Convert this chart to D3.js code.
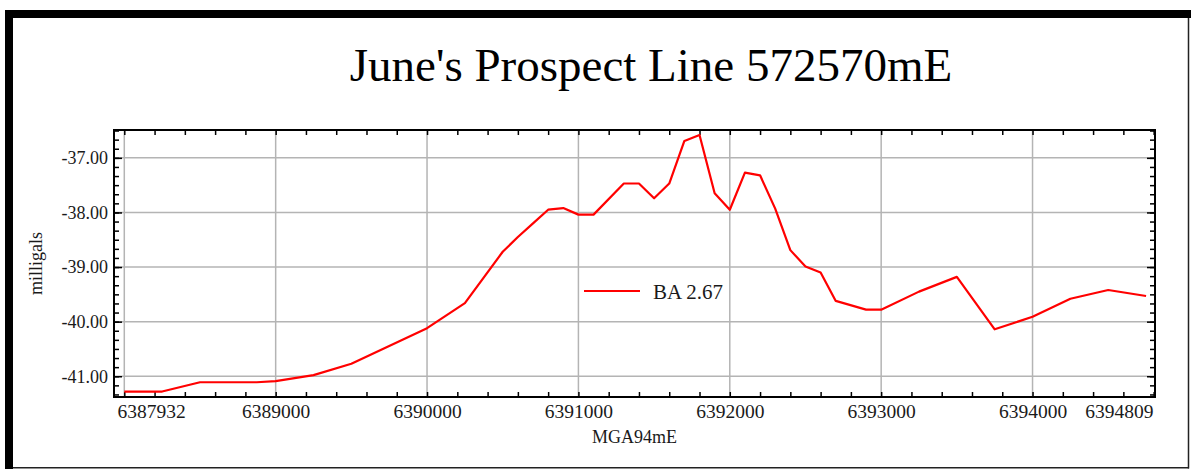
<!DOCTYPE html>
<html>
<head>
<meta charset="utf-8">
<script src="https://cdn.jsdelivr.net/npm/d3@7"></script>
<style>
  html, body { margin: 0; padding: 0; background: #fff; }
  svg { display: block; }
  text { font-family: "Liberation Serif", "Times New Roman", serif; fill: #1a1a1a; }
</style>
</head>
<body>
<svg id="chart" width="1191" height="469"></svg>
<script>
// Bouguer anomaly profile along line 572570mE
const eastings = [
  6388000, 6388250, 6388500, 6388875, 6389000, 6389250, 6389500, 6390000,
  6390250, 6390500, 6390600, 6390700, 6390800, 6390900, 6391000, 6391100,
  6391300, 6391400, 6391500, 6391600, 6391700, 6391800, 6391900, 6392000,
  6392100, 6392200, 6392300, 6392400, 6392500, 6392600, 6392700, 6392900,
  6393000, 6393250, 6393500, 6393750, 6394000, 6394250, 6394500, 6394750
];
const ba267 = [
  -41.28, -41.28, -41.11, -41.11, -41.09, -40.98, -40.77, -40.12,
  -39.66, -38.72, -38.45, -38.20, -37.95, -37.92, -38.04, -38.04,
  -37.47, -37.47, -37.74, -37.47, -36.69, -36.58, -37.65, -37.95,
  -37.27, -37.32, -37.93, -38.69, -38.99, -39.10, -39.62, -39.78,
  -39.78, -39.45, -39.18, -40.14, -39.91, -39.58, -39.42, -39.53
];
const seriesName = "BA 2.67";

// axis settings
const xExtent = [6387932, 6394809];
const xLabelTicks = [6387932, 6389000, 6390000, 6391000, 6392000, 6393000, 6394000, 6394809];
const xGridTicks = [6388000, 6389000, 6390000, 6391000, 6392000, 6393000, 6394000];
const yExtent = [-41.38, -36.49];
const yTicks = [-37, -38, -39, -40, -41];

const titleText = "June's Prospect Line 572570mE";
const xTitle = "MGA94mE";
const yTitle = "milligals";

const svg = d3.select("#chart");
const plot = { left: 114, right: 1155, top: 130, bottom: 397 };

const x = d3.scaleLinear().domain(xExtent).range([plot.left, plot.right]);
const y = d3.scaleLinear().domain(yExtent).range([plot.bottom, plot.top]);

const fmtY = d3.formatLocale({ decimal: ".", thousands: ",", grouping: [3], currency: ["", ""], minus: "-" }).format(".2f");

// outer frame: heavy top/left edge, thin bottom/right edge
svg.append("rect").attr("x", 5).attr("y", 10).attr("width", 1186).attr("height", 8).attr("fill", "#000");
svg.append("rect").attr("x", 5).attr("y", 10).attr("width", 8).attr("height", 459).attr("fill", "#000");
svg.append("line").attr("x1", 1188.5).attr("x2", 1188.5).attr("y1", 18).attr("y2", 468.5)
  .attr("stroke", "#222").attr("stroke-width", 1.5);
svg.append("line").attr("x1", 13).attr("x2", 1189).attr("y1", 467.8).attr("y2", 467.8)
  .attr("stroke", "#222").attr("stroke-width", 1.5);

// title
svg.append("text")
  .attr("x", 651).attr("y", 81)
  .attr("text-anchor", "middle")
  .style("font-size", "47px")
  .style("fill", "#000")
  .text(titleText);

// grid
const grid = svg.append("g").attr("stroke", "#b4b4b4").attr("stroke-width", 1.5);
grid.selectAll("line.v").data(xGridTicks).join("line")
  .attr("class", "v")
  .attr("x1", d => x(d)).attr("x2", d => x(d))
  .attr("y1", plot.top).attr("y2", plot.bottom);
grid.selectAll("line.h").data(yTicks).join("line")
  .attr("class", "h")
  .attr("x1", plot.left).attr("x2", plot.right)
  .attr("y1", d => y(d)).attr("y2", d => y(d));

// minor tick positions
const xMinor = d3.range(6388000, xExtent[1] + 1, 200);
const yMinor = d3.range(-41 - 2 / 6, -36.49, 1 / 6).filter(v => v >= yExtent[0] && v <= yExtent[1]);

function styleTicks(g) {
  g.select(".domain").remove();
  g.selectAll(".tick line").attr("stroke", "#000").attr("stroke-width", 1.5);
  g.selectAll(".tick text").remove();
}

svg.append("g").attr("transform", `translate(0,${plot.bottom})`)
  .call(d3.axisBottom(x).tickValues(xMinor).tickSize(-5)).call(styleTicks);
svg.append("g").attr("transform", `translate(0,${plot.top})`)
  .call(d3.axisTop(x).tickValues(xMinor).tickSize(-5)).call(styleTicks);
svg.append("g").attr("transform", `translate(${plot.left},0)`)
  .call(d3.axisLeft(y).tickValues(yMinor).tickSize(-5)).call(styleTicks);
svg.append("g").attr("transform", `translate(${plot.right},0)`)
  .call(d3.axisRight(y).tickValues(yMinor).tickSize(-5)).call(styleTicks);
svg.append("g").attr("transform", `translate(${plot.left},0)`)
  .call(d3.axisLeft(y).tickValues(yTicks).tickSize(-8)).call(styleTicks);
svg.append("g").attr("transform", `translate(${plot.right},0)`)
  .call(d3.axisRight(y).tickValues(yTicks).tickSize(-8)).call(styleTicks);

// tick labels
const xLab = svg.append("g").attr("transform", `translate(0,${plot.bottom})`)
  .call(d3.axisBottom(x).tickValues(xLabelTicks).tickSize(0).tickPadding(7).tickFormat(d3.format("d")));
xLab.select(".domain").remove();
xLab.selectAll(".tick text")
  .attr("fill", "#1a1a1a")
  .style("font-family", "'Liberation Serif', 'Times New Roman', serif")
  .style("font-size", "19.5px")
  .attr("text-anchor", (d, i) => i === 0 ? "start" : (i === xLabelTicks.length - 1 ? "end" : "middle"))
  .attr("dx", (d, i) => i === 0 ? 3 : (i === xLabelTicks.length - 1 ? -2 : 0));

const yLab = svg.append("g").attr("transform", `translate(${plot.left},0)`)
  .call(d3.axisLeft(y).tickValues(yTicks).tickSize(0).tickPadding(6).tickFormat(fmtY));
yLab.select(".domain").remove();
yLab.selectAll(".tick text")
  .attr("fill", "#1a1a1a")
  .style("font-family", "'Liberation Serif', 'Times New Roman', serif")
  .style("font-size", "18px");

// plot border
svg.append("rect")
  .attr("x", plot.left).attr("y", plot.top)
  .attr("width", plot.right - plot.left).attr("height", plot.bottom - plot.top)
  .attr("fill", "none").attr("stroke", "#000").attr("stroke-width", 2);

// data line
const line = d3.line().x((d, i) => x(eastings[i])).y(d => y(d));
svg.append("path")
  .datum(ba267)
  .attr("d", line)
  .attr("fill", "none")
  .attr("stroke", "#ff0000")
  .attr("stroke-width", 2.2)
  .attr("stroke-linejoin", "round");

// legend
const legend = svg.append("g");
legend.append("line").attr("x1", 584).attr("x2", 640).attr("y1", 291).attr("y2", 291)
  .attr("stroke", "#ff0000").attr("stroke-width", 2.2);
legend.append("text").attr("x", 653).attr("y", 299)
  .style("font-size", "21px").text(seriesName);

// axis titles
svg.append("text")
  .attr("x", (plot.left + plot.right) / 2).attr("y", 443)
  .attr("text-anchor", "middle")
  .style("font-size", "18px")
  .text(xTitle);
svg.append("text")
  .attr("transform", `translate(42,${(plot.top + plot.bottom) / 2}) rotate(-90)`)
  .attr("text-anchor", "middle")
  .style("font-size", "18px")
  .text(yTitle);
</script>
</body>
</html>
